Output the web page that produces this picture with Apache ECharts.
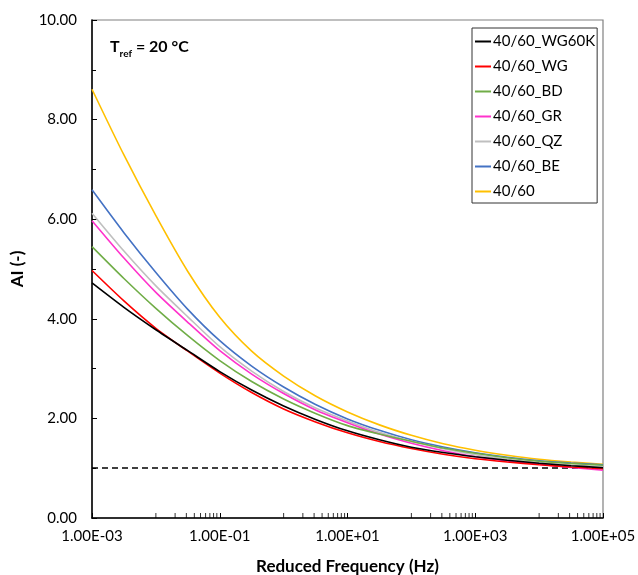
<!DOCTYPE html>
<html>
<head>
<meta charset="utf-8">
<script src="https://cdn.jsdelivr.net/npm/echarts@6/dist/echarts.min.js"></script>
<style>
html,body{margin:0;padding:0;background:#fff;}
#chart{width:638px;height:575px;}
</style>
</head>
<body>
<div id="chart"></div>
<script>
// Reduced frequency (Hz) sample points (half-decade steps)
const freq = [0.001, 0.00316, 0.01, 0.0316, 0.1, 0.316, 1, 3.16, 10, 31.6, 100, 316, 1000, 3162, 10000, 31623, 100000];
// AI (-) values per binder
const wg60k = [4.72, 4.23, 3.78, 3.36, 2.94, 2.57, 2.25, 1.98, 1.75, 1.57, 1.42, 1.315, 1.23, 1.16, 1.10, 1.05, 1.01];
const wg    = [4.97, 4.36, 3.81, 3.35, 2.91, 2.52, 2.19, 1.93, 1.71, 1.535, 1.395, 1.28, 1.19, 1.125, 1.07, 1.025, 0.99];
const bd    = [5.45, 4.81, 4.21, 3.66, 3.16, 2.74, 2.39, 2.10, 1.855, 1.685, 1.54, 1.405, 1.30, 1.21, 1.14, 1.095, 1.06];
const gr    = [5.97, 5.22, 4.53, 3.93, 3.36, 2.89, 2.50, 2.17, 1.915, 1.685, 1.50, 1.35, 1.23, 1.145, 1.08, 1.015, 0.96];
const qz    = [6.12, 5.36, 4.66, 4.04, 3.44, 2.95, 2.54, 2.21, 1.95, 1.72, 1.54, 1.39, 1.27, 1.18, 1.11, 1.065, 1.03];
const be    = [6.59, 5.73, 4.93, 4.19, 3.56, 3.05, 2.63, 2.28, 1.99, 1.76, 1.57, 1.425, 1.31, 1.22, 1.15, 1.105, 1.07];
const base  = [8.61, 7.29, 6.07, 4.95, 4.03, 3.35, 2.85, 2.45, 2.13, 1.87, 1.66, 1.49, 1.36, 1.26, 1.18, 1.125, 1.08];
const seriesNames = ['40/60_WG60K', '40/60_WG', '40/60_BD', '40/60_GR', '40/60_QZ', '40/60_BE', '40/60'];
const seriesData = [wg60k, wg, bd, gr, qz, be, base];
const seriesColors = ['#000000', '#FF0000', '#70AD47', '#FF33CC', '#BFBFBF', '#4472C4', '#FFC000'];
const refLine = 1.0;
// x-axis majors (labelled) and y-axis range
const xMajors = [0.001, 0.1, 10, 1000, 100000];
const yMin = 0, yMax = 10, yStep = 2;

const xMinor = [];
for (let i = 0; i < xMajors.length - 1; i++) {
  for (let k = 1; k <= 9; k++) xMinor.push(xMajors[i] * 10 * k);
}

const FONT = 'Lato';
const chart = echarts.init(document.getElementById('chart'), null, {renderer: 'canvas'});

const series = seriesNames.map((n, i) => ({
  name: n,
  type: 'line',
  data: freq.map((f, j) => [f, seriesData[i][j]]),
  smooth: 0.25,
  showSymbol: false,
  symbol: 'none',
  lineStyle: {color: seriesColors[i], width: 1.6},
  itemStyle: {color: seriesColors[i]},
  z: 3 + (seriesNames.length - i),
  markLine: i === 0 ? {
    silent: true,
    symbol: ['none', 'none'],
    label: {show: false},
    lineStyle: {color: '#000', type: [6, 4], width: 1.5},
    data: [{yAxis: refLine}]
  } : undefined
}));

// minor ticks of the log axis, placed through the axis scale
series.push({
  type: 'scatter',
  name: 'minorTicks',
  silent: true,
  clip: false,
  data: xMinor.map(v => [v, yMin]),
  symbol: 'rect',
  symbolSize: [1, 5],
  symbolOffset: [0, -2.5],
  itemStyle: {color: '#000'},
  z: 10
});

chart.setOption({
  backgroundColor: '#fff',
  animation: false,
  textStyle: {fontFamily: FONT},
  title: {
    left: 105, top: 30,
    text: '{b|T}{s|ref}{b| = 20 °C}',
    textStyle: {
      rich: {
        b: {fontFamily: FONT, fontWeight: 'bold', fontSize: 16, color: '#000', verticalAlign: 'bottom', lineHeight: 20},
        s: {fontFamily: FONT, fontWeight: 'bold', fontSize: 10, color: '#000', verticalAlign: 'bottom', lineHeight: 14, padding: [0, 0, -4, 0]}
      }
    }
  },
  legend: {
    data: seriesNames,
    orient: 'vertical',
    left: 472, top: 28,
    padding: [6, 2, 4, 3],
    itemGap: 10,
    itemWidth: 16, itemHeight: 2,
    icon: 'rect',
    borderColor: '#333', borderWidth: 1,
    textStyle: {fontFamily: FONT, fontSize: 15, color: '#000', lineHeight: 14, padding: [0, 0, 0, -3]}
  },
  grid: {left: 92, right: 35, top: 20, bottom: 57, show: true, borderColor: '#808080', borderWidth: 1.2,
         containLabel: false, outerBoundsMode: 'none'},
  xAxis: {
    type: 'log', logBase: 10, min: 0.001, max: 100000, interval: 2,
    name: 'Reduced Frequency (Hz)', nameLocation: 'middle', nameGap: 40,
    nameTextStyle: {fontFamily: FONT, fontWeight: 'bold', fontSize: 17, color: '#000'},
    axisLine: {show: true, onZero: false, lineStyle: {color: '#000', width: 1.5}},
    axisTick: {show: true, inside: true, length: 5, lineStyle: {color: '#000'}},
    minorTick: {show: false},
    splitLine: {show: false},
    axisLabel: {
      fontFamily: FONT, fontSize: 15, color: '#000', margin: 11,
      formatter: function (v) {
        const e = Math.round(Math.log10(v));
        return '1.00E' + (e < 0 ? '-' : '+') + String(Math.abs(e)).padStart(2, '0');
      }
    }
  },
  yAxis: {
    type: 'value', min: yMin, max: yMax, interval: yStep,
    name: 'AI (-)', nameLocation: 'middle', nameGap: 66, nameRotate: 90,
    nameTextStyle: {fontFamily: FONT, fontWeight: 'bold', fontSize: 17, color: '#000'},
    axisLine: {show: true, lineStyle: {color: '#000', width: 1.5}},
    axisTick: {show: true, inside: true, length: 5, lineStyle: {color: '#000'}},
    minorTick: {show: true, splitNumber: 2, length: 4, lineStyle: {color: '#000'}},
    splitLine: {show: false},
    axisLabel: {fontFamily: FONT, fontSize: 15, color: '#000', margin: 15, formatter: v => v.toFixed(2)}
  },
  series: series
});
</script>
</body>
</html>
